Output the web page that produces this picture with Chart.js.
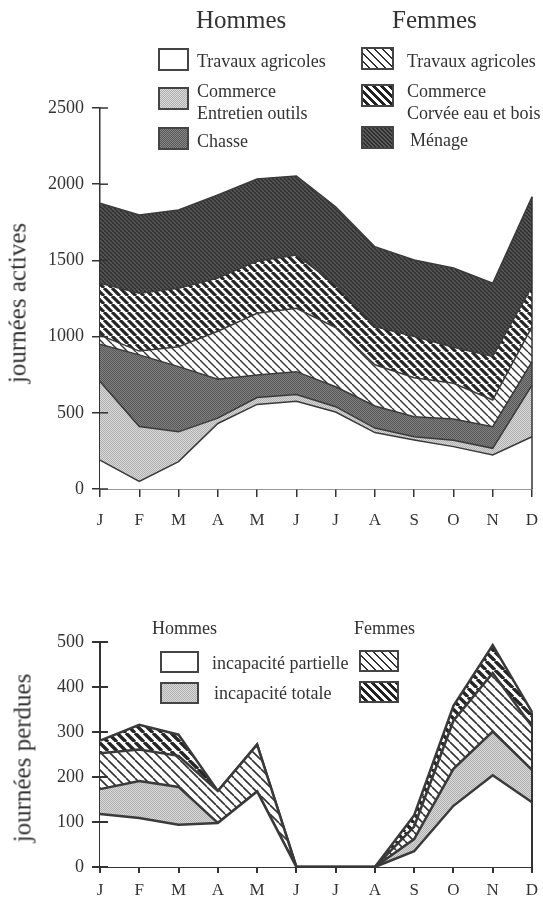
<!DOCTYPE html>
<html lang="fr">
<head>
<meta charset="utf-8">
<title>Journées actives et journées perdues</title>
<script src="https://cdn.jsdelivr.net/npm/chart.js@4.4.1/dist/chart.umd.min.js"></script>
<style>
  body { margin: 0; width: 543px; height: 898px; position: relative; background: #fff; overflow: hidden;
         font-family: 'Liberation Serif', 'Times New Roman', serif; color: #333; }
  canvas { position: absolute; left: 0; }
  #haut { top: 0; }
  #bas { top: 580px; }
  .t { position: absolute; white-space: nowrap; line-height: 1; }
  .box { position: absolute; box-sizing: border-box; border: 2px solid #444; }
  .ytitre { position: absolute; transform: translate(-50%, -50%) rotate(-90deg); font-size: 25px; white-space: nowrap; line-height: 1; }
  .blanc { background: #fff; }
  .gclair { background: repeating-conic-gradient(#dadada 0 25%, #b0b0b0 0 50%) 0 0 / 2px 2px; }
  .gfonce { background: repeating-conic-gradient(#858585 0 25%, #5a5a5a 0 50%) 0 0 / 2px 2px; }
  .hfine { background: repeating-linear-gradient(45deg, #fff 0 4.2px, #333 4.2px 5.6px); }
  .hepaisse { background: repeating-linear-gradient(45deg, #fff 0 2.8px, #222 2.8px 5.6px); }
  .menage { background: repeating-linear-gradient(45deg, #2f2f2f 0 1.4px, #5a5a5a 1.4px 2.8px); }
</style>
</head>
<body>
<canvas id="haut" width="543" height="545"></canvas>
<canvas id="bas" width="543" height="318"></canvas>

<!-- légende du haut -->
<div class="t" style="left:196px;top:7px;font-size:25px">Hommes</div>
<div class="t" style="left:392px;top:7px;font-size:25px">Femmes</div>

<div class="box blanc" style="left:158px;top:48px;width:31px;height:23px"></div>
<div class="box gclair" style="left:158px;top:87px;width:31px;height:23px"></div>
<div class="box gfonce" style="left:158px;top:127px;width:31px;height:23px"></div>
<div class="t" style="left:197px;top:52px;font-size:18px">Travaux agricoles</div>
<div class="t" style="left:197px;top:81px;font-size:18px;line-height:21.5px">Commerce<br>Entretien outils</div>
<div class="t" style="left:197px;top:132px;font-size:18px">Chasse</div>

<div class="box hfine" style="left:361px;top:47px;width:33px;height:23px"></div>
<div class="box hepaisse" style="left:361px;top:84px;width:33px;height:23px"></div>
<div class="box menage" style="left:361px;top:126px;width:33px;height:23px"></div>
<div class="t" style="left:407px;top:52px;font-size:18px">Travaux agricoles</div>
<div class="t" style="left:407px;top:81px;font-size:18px;line-height:21.5px">Commerce<br>Corvée eau et bois</div>
<div class="t" style="left:410px;top:131px;font-size:18px">Ménage</div>

<div class="ytitre" style="left:17px;top:303px">journées actives</div>

<!-- légende du bas -->
<div class="t" style="left:152px;top:619px;font-size:18px">Hommes</div>
<div class="t" style="left:354px;top:619px;font-size:18px">Femmes</div>
<div class="box blanc" style="left:160px;top:651px;width:39px;height:22px"></div>
<div class="box gclair" style="left:160px;top:682px;width:39px;height:22px"></div>
<div class="box hfine" style="left:359px;top:650px;width:40px;height:22px"></div>
<div class="box hepaisse" style="left:359px;top:681px;width:40px;height:22px"></div>
<div class="t" style="left:212px;top:654px;font-size:18px">incapacité partielle</div>
<div class="t" style="left:214px;top:684px;font-size:18px">incapacité totale</div>

<div class="ytitre" style="left:22px;top:758px">journées perdues</div>

<script>
const mois = ['J', 'F', 'M', 'A', 'M', 'J', 'J', 'A', 'S', 'O', 'N', 'D'];

// journées actives (empilées, du bas vers le haut)
const hommesTravaux  = [190, 50, 180, 430, 555, 575, 505, 370, 322, 278, 223, 343];
const hommesCommerce = [515, 360, 195, 35, 45, 45, 35, 30, 21, 42, 44, 339];
const hommesChasse   = [245, 470, 428, 255, 148, 150, 131, 145, 131, 140, 142, 153];
const femmesTravaux  = [60, 25, 131, 315, 405, 416, 389, 270, 256, 234, 175, 230];
const femmesCorvee   = [340, 379, 383, 350, 342, 350, 280, 250, 270, 236, 286, 265];
const femmesMenage   = [525, 514, 514, 545, 540, 518, 512, 525, 503, 520, 480, 588];
const ticksActives   = [0, 500, 1000, 1500, 2000, 2500];

// journées perdues (empilées)
const hommesPartielle = [118, 109, 94, 98, 168, 0, 0, 0, 35, 136, 204, 144];
const hommesTotale    = [55, 82, 84, 0, 0, 0, 0, 0, 27, 82, 97, 72];
const femmesPartielle = [80, 70, 69, 71, 104, 0, 0, 0, 28, 107, 130, 96];
const femmesTotale    = [28, 55, 47, 0, 0, 0, 0, 0, 25, 33, 62, 32];
const ticksPerdues    = [0, 100, 200, 300, 400, 500];

Chart.defaults.font.family = "'Liberation Serif', 'Times New Roman', serif";
Chart.defaults.color = '#333';

function motif(ctx, taille, dessin) {
    const c = document.createElement('canvas');
    c.width = taille;
    c.height = taille;
    dessin(c.getContext('2d'), taille);
    return ctx.createPattern(c, 'repeat');
}

function hachures(ctx, fond, trait, epaisseur, pas) {
    return motif(ctx, pas, (g, s) => {
        g.fillStyle = fond;
        g.fillRect(0, 0, s, s);
        g.strokeStyle = trait;
        g.lineWidth = epaisseur;
        g.beginPath();
        [-s, 0, s].forEach(o => { g.moveTo(o, 0); g.lineTo(o + s, s); });
        g.stroke();
    });
}

function pointille(ctx, a, b) {
    return motif(ctx, 2, g => {
        g.fillStyle = a;
        g.fillRect(0, 0, 2, 2);
        g.fillStyle = b;
        g.fillRect(0, 0, 1, 1);
        g.fillRect(1, 1, 1, 1);
    });
}

function couche(label, data, fond, fill, bord) {
    return { label, data, backgroundColor: fond, fill, borderColor: '#3a3a3a',
             borderWidth: bord, pointRadius: 0, tension: 0 };
}

// petits traits vers l'intérieur sur l'axe y + bord droit de la surface
const traitsAxe = {
    id: 'traitsAxe',
    afterDatasetsDraw(chart, args, opts) {
        const ctx = chart.ctx, x = chart.scales.x, y = chart.scales.y;
        ctx.save();
        ctx.strokeStyle = '#333';
        ctx.lineWidth = opts.largeur || 1.5;
        y.ticks.forEach((t, i) => {
            const py = y.getPixelForTick(i);
            ctx.beginPath();
            ctx.moveTo(y.right, py);
            ctx.lineTo(y.right + 8, py);
            ctx.stroke();
        });
        const der = chart.getDatasetMeta(chart.data.datasets.length - 1).data;
        const px = x.getPixelForValue(mois.length - 1);
        ctx.beginPath();
        ctx.moveTo(px, y.getPixelForValue(0));
        ctx.lineTo(px, der[der.length - 1].y);
        ctx.stroke();
        ctx.restore();
    }
};

function echelles(ticks, hauteurX, largeurAxe, longTrait, padX) {
    return {
        x: {
            offset: false,
            grid: { drawOnChartArea: false, color: '#333', lineWidth: largeurAxe, tickLength: longTrait },
            border: { color: '#333', width: largeurAxe },
            ticks: { font: { size: 17 }, padding: padX, maxRotation: 0, autoSkip: false },
            afterFit: s => { s.height = hauteurX; s.paddingLeft = 0; s.paddingRight = 0; }
        },
        y: {
            stacked: true,
            min: ticks[0],
            max: ticks[ticks.length - 1],
            grid: { drawOnChartArea: false, color: '#333', lineWidth: largeurAxe, tickLength: 8 },
            border: { color: '#333', width: largeurAxe },
            ticks: { stepSize: ticks[1] - ticks[0], font: { size: 18 }, padding: 8, callback: v => String(v) },
            afterFit: s => { s.width = 100; }
        }
    };
}

function dessinerHaut() {
    const ctx = document.getElementById('haut').getContext('2d');
    new Chart(ctx, {
        type: 'line',
        data: {
            labels: mois,
            datasets: [
                couche('Hommes - Travaux agricoles', hommesTravaux, '#ffffff', 'origin', 1.5),
                couche('Hommes - Commerce, Entretien outils', hommesCommerce, pointille(ctx, '#d8d8d8', '#b0b0b0'), '-1', 1.5),
                couche('Hommes - Chasse', hommesChasse, pointille(ctx, '#808080', '#585858'), '-1', 1.5),
                couche('Femmes - Travaux agricoles', femmesTravaux, hachures(ctx, '#ffffff', '#333', 1.4, 8), '-1', 1.5),
                couche('Femmes - Commerce, Corvée eau et bois', femmesCorvee, hachures(ctx, '#ffffff', '#262626', 3.2, 8), '-1', 1.5),
                couche('Femmes - Ménage', femmesMenage, hachures(ctx, '#2f2f2f', '#5a5a5a', 1.5, 4), '-1', 1.5)
            ]
        },
        options: {
            responsive: false,
            animation: false,
            layout: { padding: { top: 108, right: 11, left: 0, bottom: 0 } },
            plugins: { legend: { display: false }, tooltip: { enabled: false }, traitsAxe: { largeur: 1.5 } },
            scales: echelles(ticksActives, 56, 1.5, 8, 13)
        },
        plugins: [traitsAxe]
    });
}

function dessinerBas() {
    const ctx = document.getElementById('bas').getContext('2d');
    new Chart(ctx, {
        type: 'line',
        data: {
            labels: mois,
            datasets: [
                couche('Hommes - incapacité partielle', hommesPartielle, '#ffffff', 'origin', 2.5),
                couche('Hommes - incapacité totale', hommesTotale, pointille(ctx, '#d8d8d8', '#b0b0b0'), '-1', 2.5),
                couche('Femmes - incapacité partielle', femmesPartielle, hachures(ctx, '#ffffff', '#333', 1.6, 9), '-1', 2.5),
                couche('Femmes - incapacité totale', femmesTotale, hachures(ctx, '#ffffff', '#262626', 3.4, 9), '-1', 2.5)
            ]
        },
        options: {
            responsive: false,
            animation: false,
            layout: { padding: { top: 62, right: 11, left: 0, bottom: 0 } },
            plugins: { legend: { display: false }, tooltip: { enabled: false }, traitsAxe: { largeur: 2 } },
            scales: echelles(ticksPerdues, 31, 2, 6, 7)
        },
        plugins: [traitsAxe]
    });
}

dessinerHaut();
dessinerBas();
</script>
</body>
</html>
